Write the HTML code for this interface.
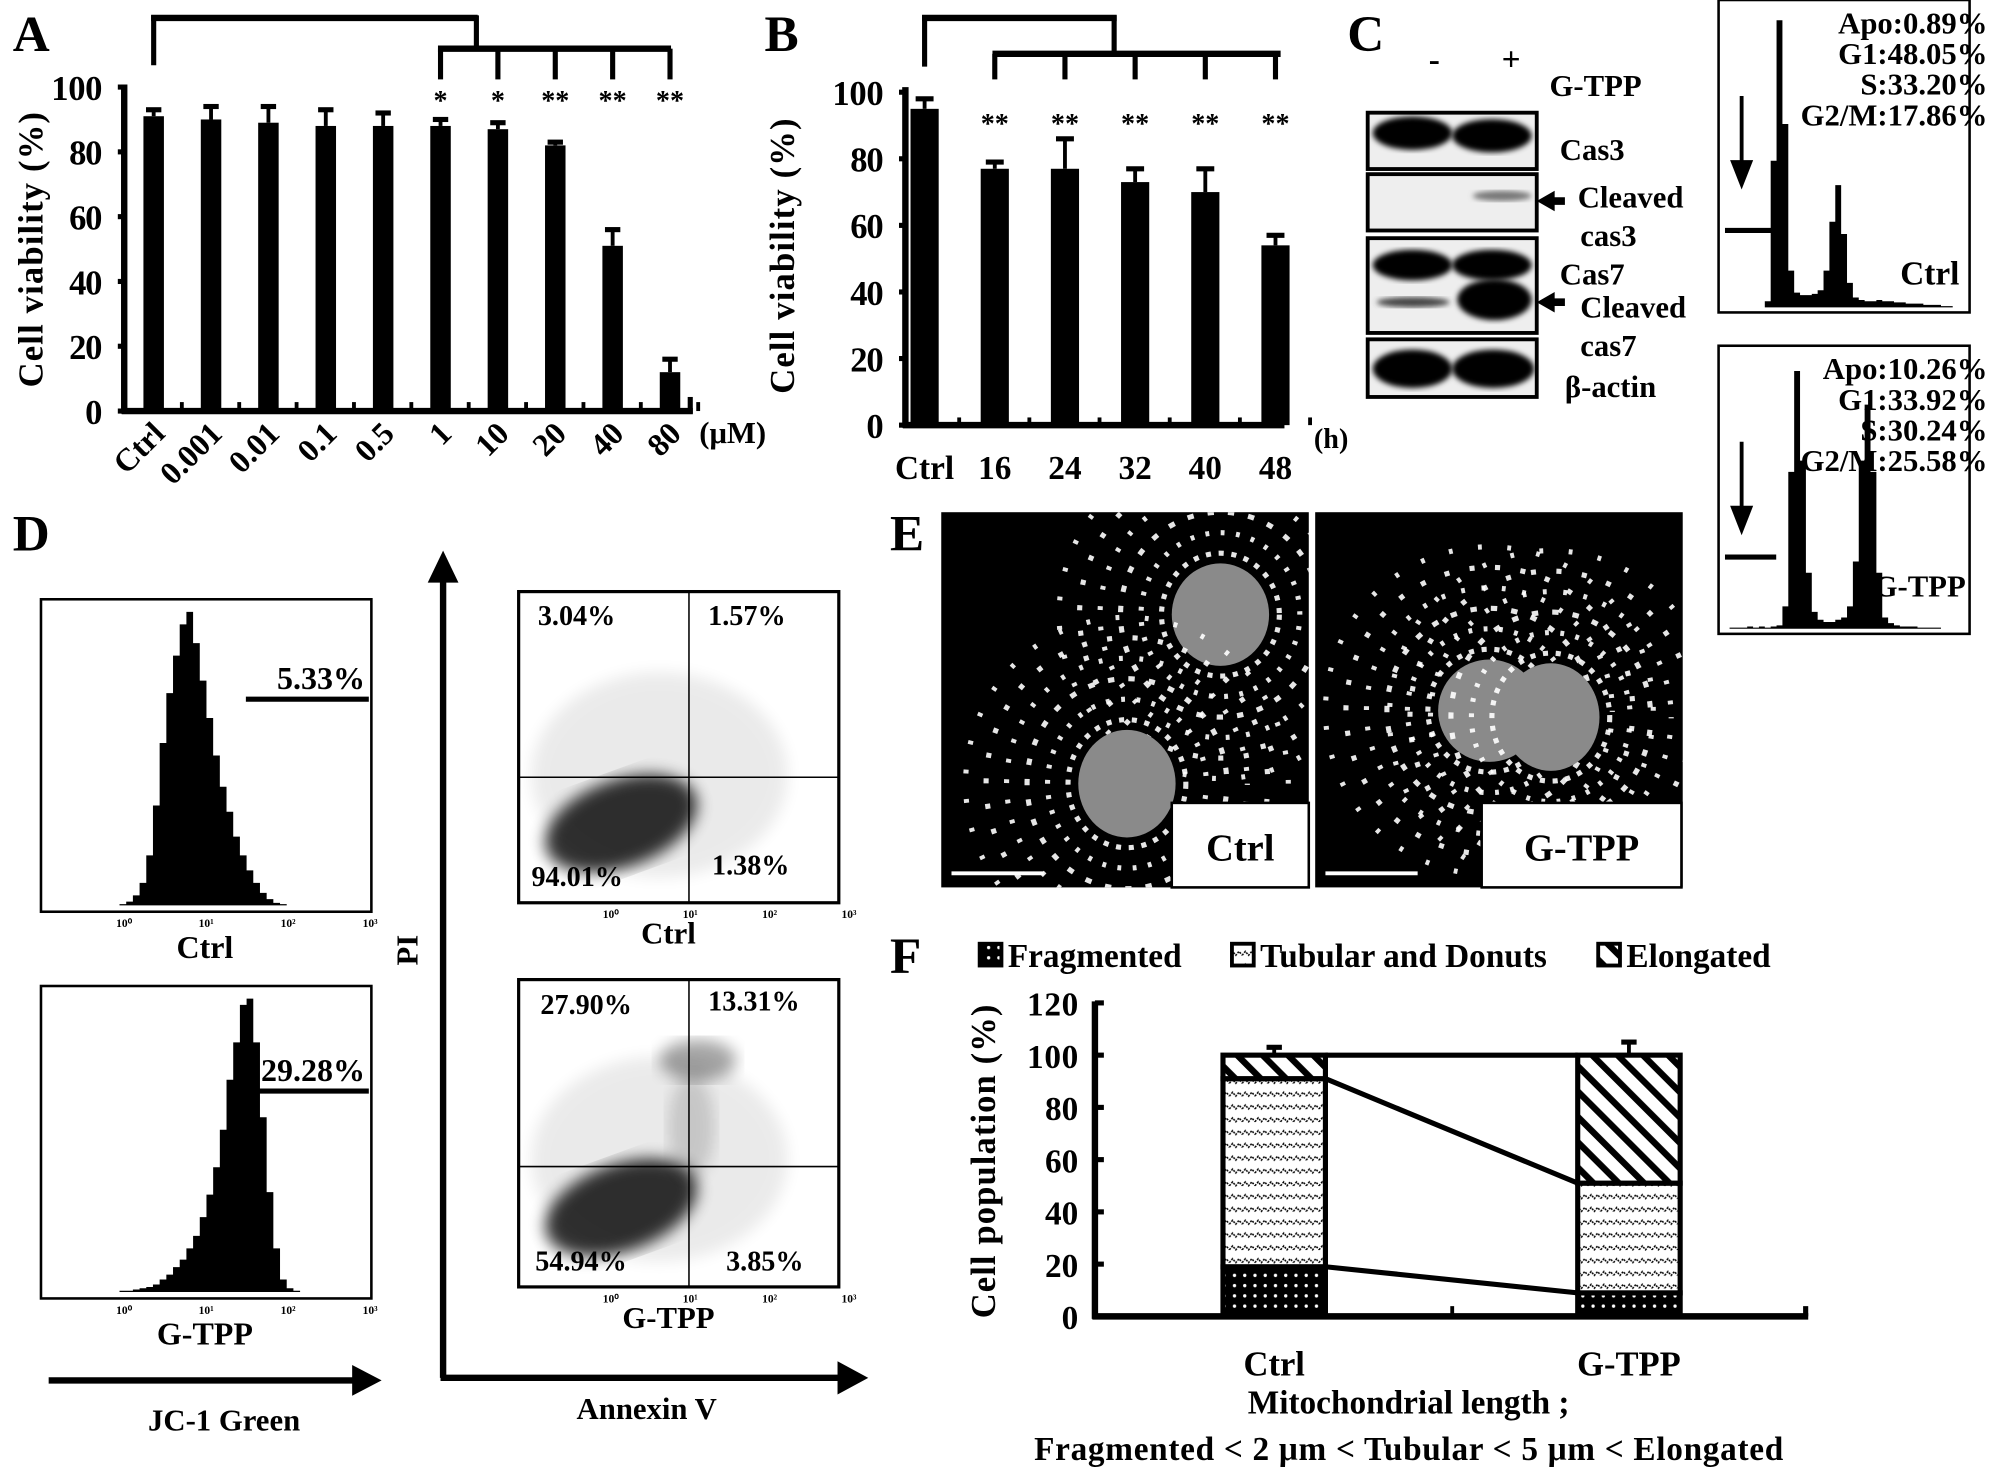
<!DOCTYPE html>
<html><head><meta charset="utf-8"><style>
html,body{margin:0;padding:0;background:#fff;}
svg{display:block;}
text{font-family:"Liberation Serif",serif;font-weight:bold;fill:#000;}
</style></head><body>
<svg id="fig" width="2008" height="1479" viewBox="0 0 1568 1155" preserveAspectRatio="none" xmlns="http://www.w3.org/2000/svg">
<defs>
<pattern id="pDots" width="8" height="8" patternUnits="userSpaceOnUse"><rect width="8" height="8" fill="#000"/><circle cx="4" cy="4" r="1.3" fill="#fff"/></pattern>
<pattern id="pWave" width="10" height="10" patternUnits="userSpaceOnUse"><rect width="10" height="10" fill="#fff"/><path d="M0 6 L2.5 3 L5 6 L7.5 3 L10 6" stroke="#000" stroke-width="1.2" fill="none" stroke-dasharray="1.5 1"/></pattern>
<pattern id="pHatch" width="14" height="14" patternUnits="userSpaceOnUse" patternTransform="rotate(-45)"><rect width="14" height="14" fill="#fff"/><rect x="0" y="0" width="5" height="14" fill="#000"/></pattern>
<filter id="blur2"><feGaussianBlur stdDeviation="2"/></filter>
<filter id="blur6"><feGaussianBlur stdDeviation="6"/></filter>
</defs>
<g id="gA"></g>
<g id="gB"></g>
<g id="gC"></g>
<g id="gD"></g>
<g id="gE"></g>
<g id="gF"></g>
</svg>
<script>
// Panel A data
const aCats=["Ctrl","0.001","0.01","0.1","0.5","1","10","20","40","80"];
const aVals=[91,90,89,88,88,88,87,82,51,12];
const aErr=[2,4,5,5,4,2,2,1,5,4];
const aStars=["","","","","","*","*","**","**","**"];
const aTicks=[0,20,40,60,80,100];
// Panel B data
const bCats=["Ctrl","16","24","32","40","48"];
const bVals=[95,77,77,73,70,54];
const bErr=[3,2,9,4,7,3];
const bStars=["","**","**","**","**","**"];
const bTicks=[0,20,40,60,80,100];
// Panel F data
const fCats=["Ctrl","G-TPP"];
const fFrag=[19,9];
const fTub=[72,42];
const fElong=[9,49];
const fFragErr=[3,4];
const fTubErr=[3,6];
const fElongErr=[3,5];
const fTicks=[0,20,40,60,80,100,120];
// Cell cycle histograms (coarse bins)
const ccCtrl=[0,0,0,0,0,0,0,5,120,235,150,30,12,10,10,11,14,30,70,100,60,20,8,6,5,5,6,5,5,4,4,3,3,3,2,2,2,1,1,0,0];
const ccGtpp=[0,1,1,1,2,1,2,1,2,3,20,140,230,150,50,15,8,6,6,8,10,20,60,150,200,140,50,10,5,3,2,2,2,1,1,1,1,0,0,0,0];
// JC-1 histograms
const jcCtrl=[0,0,0,0,0,0,1,3,8,18,40,80,130,170,200,225,235,210,180,150,120,95,75,55,40,28,18,10,5,2,1,0,0,0,0,0];
const jcGtpp=[0,0,0,0,0,0,1,1,2,3,4,6,10,14,20,26,35,45,60,78,100,130,170,200,230,235,200,140,80,35,10,3,1,0,0,0];

const NS="http://www.w3.org/2000/svg";
function mk(parent,tag,attrs,txt){const e=document.createElementNS(NS,tag);for(const k in attrs)e.setAttribute(k,attrs[k]);if(txt!==undefined)e.textContent=txt;parent.appendChild(e);return e;}
function line(p,x1,y1,x2,y2,w){return mk(p,"line",{x1,y1,x2,y2,stroke:"#000","stroke-width":w||3});}

// ---------- Panel A ----------
(function(){
const g=document.getElementById("gA");
const yA=v=>321-v*2.53, xA=i=>120+i*44.8;
let t=mk(g,"text",{x:10,y:40,"font-size":40},"A");


line(g,97,66,97,323,5);line(g,95,321,541,321,5);line(g,539,310,539,323,4);
aTicks.forEach(v=>{line(g,92,yA(v),99,yA(v),4);
 const tt=mk(g,"text",{x:80,y:yA(v)+10,"font-size":27,"text-anchor":"end",textLength:v>=100?40:(v>0?26:14)},v);
 
 });
const yl=mk(g,"text",{x:0,y:0,"font-size":27,"text-anchor":"middle",transform:"translate(33,195) rotate(-90)",textLength:215},"Cell viability (%)");


aVals.forEach((v,i)=>{const x=xA(i);
 const r=mk(g,"rect",{x:x-8,y:yA(v),width:16,height:321-yA(v),fill:"#000"});
 
 
 line(g,x,yA(v),x,yA(v+aErr[i]),3);line(g,x-6,yA(v+aErr[i]),x+6,yA(v+aErr[i]),4);
 line(g,x+22,314,x+22,321,3);
 if(aStars[i]){const s=mk(g,"text",{x:x,y:86,"font-size":22,"text-anchor":"middle"},aStars[i]);
  
  }
 const lb=mk(g,"text",{x:0,y:0,"font-size":25,"text-anchor":"end",transform:`translate(${x+10},${340}) rotate(-45)`},aCats[i]);
 
 
});
const u=mk(g,"text",{x:546,y:346,"font-size":24},"(μM)");


line(g,118,14,373,14,5);line(g,120,12,120,51,4);line(g,372,12,372,38,4);
line(g,342,38,524,38,5);[5,6,7,8,9].forEach(i=>line(g,xA(i),38,xA(i),62,4));
})();

// ---------- Panel B ----------
(function(){
const g=document.getElementById("gB");
const yB=v=>332-v*2.6, xB=i=>722+i*54.8;
let t=mk(g,"text",{x:597,y:40,"font-size":40},"B");


line(g,707,68,707,334,5);line(g,705,332,1003,332,5);
bTicks.forEach(v=>{line(g,702,yB(v),709,yB(v),4);
 const tt=mk(g,"text",{x:690,y:yB(v)+10,"font-size":27,"text-anchor":"end",textLength:v>=100?40:(v>0?26:14)},v);
 
 });
const yl=mk(g,"text",{x:0,y:0,"font-size":27,"text-anchor":"middle",transform:"translate(620,200) rotate(-90)",textLength:215},"Cell viability (%)");


bVals.forEach((v,i)=>{const x=xB(i);
 const r=mk(g,"rect",{x:x-11,y:yB(v),width:22,height:332-yB(v),fill:"#000"});
 
 
 line(g,x,yB(v),x,yB(v+bErr[i]),3);line(g,x-7,yB(v+bErr[i]),x+7,yB(v+bErr[i]),4);
 line(g,x+27,326,x+27,332,3);
 if(bStars[i]){const s=mk(g,"text",{x:x,y:104,"font-size":22,"text-anchor":"middle"},bStars[i]);
  
  }
 const lb=mk(g,"text",{x:x,y:374,"font-size":26,"text-anchor":"middle"},bCats[i]);
 
 
});
const u=mk(g,"text",{x:1026,y:350,"font-size":22},"(h)");


line(g,720,14,872,14,5);line(g,722,12,722,52,4);line(g,870,12,870,42,4);
line(g,775,42,1000,42,5);[1,2,3,4,5].forEach(i=>line(g,xB(i),42,xB(i),62,4));
})();

// ---------- Panel C ----------
(function(){
const g=document.getElementById("gC");
let t=mk(g,"text",{x:1052,y:40,"font-size":40},"C");


[["-",1120,55],["+",1180,55]].forEach(a=>{const e=mk(g,"text",{x:a[1],y:a[2],"font-size":26,"text-anchor":"middle"},a[0]);
 
 });
const blots=[[88,132],[136,180],[186,260],[265,310]];
blots.forEach(b=>{const r=mk(g,"rect",{x:1068,y:b[0],width:132,height:b[1]-b[0],fill:"#eee",stroke:"#000","stroke-width":3});
 
 });
const bands=[[1072,1134,104,13,"#000"],[1134,1196,106,13,"#000"],[1150,1196,153,4,"#777"],[1072,1134,207,12,"#000"],[1134,1196,207,12,"#000"],[1075,1132,236,4,"#444"],[1138,1196,234,16,"#000"],[1072,1134,288,15,"#000"],[1134,1198,288,15,"#000"]];
bands.forEach(b=>mk(g,"ellipse",{cx:(b[0]+b[1])/2,cy:b[2],rx:(b[1]-b[0])/2,ry:b[3],fill:b[4],filter:"url(#blur2)"}));
const labels=[["G-TPP",1210,75],["Cas3",1218,125],["Cleaved",1232,162],["cas3",1234,192],["Cas7",1218,222],["Cleaved",1234,248],["cas7",1234,278],["β-actin",1222,310]];
labels.forEach(l=>{const e=mk(g,"text",{x:l[1],y:l[2],"font-size":24},l[0]);
 
 });
mk(g,"path",{d:"M1200 157 L1214 149 L1214 154 L1222 154 L1222 160 L1214 160 L1214 165 Z",fill:"#000"});
mk(g,"path",{d:"M1200 236 L1214 228 L1214 233 L1222 233 L1222 239 L1214 239 L1214 244 Z",fill:"#000"});
function cc(x0,y0,w,h,data,txts,name){
 const r=mk(g,"rect",{x:x0,y:y0,width:w,height:h,fill:"#fff",stroke:"#000","stroke-width":2});
 
 
 const bw=(w-8)/data.length;const base=y0+h-4;let d=`M${x0+4} ${base}`;
 data.forEach((v,i)=>{const yy=base-v*(h-15)/240;d+=` L${x0+4+i*bw} ${yy} L${x0+4+(i+1)*bw} ${yy}`;});
 d+=` L${x0+w-4} ${base} Z`;
 const p=mk(g,"path",{d,fill:"#000"});
 
 
 txts.forEach((tx,i)=>{const e=mk(g,"text",{x:x0+w+14,y:y0+26+i*24,"font-size":24,"text-anchor":"end"},tx);
  
  });
 line(g,x0+18,y0+75,x0+18,y0+135,3);mk(g,"path",{d:`M${x0+9} ${y0+125} L${x0+27} ${y0+125} L${x0+18} ${y0+148}Z`,fill:"#000"});
 line(g,x0+5,y0+165+(h>230?15:0),x0+45,y0+165+(h>230?15:0),4);
}
cc(1342,0,196,244,ccCtrl,["Apo:0.89%","G1:48.05%","S:33.20%","G2/M:17.86%"],"cell-cycle-ctrl");
cc(1342,270,196,225,ccGtpp,["Apo:10.26%","G1:33.92%","S:30.24%","G2/M:25.58%"],"cell-cycle-gtpp");
let e1=mk(g,"text",{x:1530,y:222,"font-size":26,"text-anchor":"end"},"Ctrl");


let e2=mk(g,"text",{x:1535,y:466,"font-size":24,"text-anchor":"end"},"G-TPP");


})();

// ---------- Panel D ----------
(function(){
const g=document.getElementById("gD");
let t=mk(g,"text",{x:10,y:430,"font-size":40},"D");


function hist(x0,y0,data,pct,lx,ly,lab,name){
 const w=258,h=244;
 const r=mk(g,"rect",{x:x0,y:y0,width:w,height:h,fill:"#fff",stroke:"#000","stroke-width":2});
 
 
 const bw=(w-70)/data.length;const base=y0+h-5;let d=`M${x0+10} ${base}`;
 data.forEach((v,i)=>{const yy=base-v*(h-10)/240;d+=` L${x0+30+i*bw} ${yy} L${x0+30+(i+1)*bw} ${yy}`;});
 d+=` L${x0+w-30} ${base} Z`;
 const p=mk(g,"path",{d,fill:"#000"});
 
 
 line(g,lx,ly,x0+w-2,ly,4);
 const e=mk(g,"text",{x:x0+w-5,y:ly-8,"font-size":25,"text-anchor":"end"},pct);
 
 
 ["10⁰","10¹","10²","10³"].forEach((s,i)=>mk(g,"text",{x:x0+65+i*64,y:y0+h+12,"font-size":9,"font-weight":"normal","text-anchor":"middle"},s));
 const l=mk(g,"text",{x:x0+128,y:y0+h+36,"font-size":25,"text-anchor":"middle"},lab);
 
 
}
hist(32,468,jcCtrl,"5.33%",192,546,"Ctrl","jc1-ctrl");
hist(32,770,jcGtpp,"29.28%",196,852,"G-TPP","jc1-gtpp");
line(g,38,1078,285,1078,5);mk(g,"path",{d:"M298 1078 L275 1066 L275 1090Z",fill:"#000"});
let x1=mk(g,"text",{x:175,y:1117,"font-size":24,"text-anchor":"middle"},"JC-1 Green");


line(g,346,445,346,1076,5);mk(g,"path",{d:"M346 430 L334 455 L358 455Z",fill:"#000"});
line(g,344,1076,665,1076,5);mk(g,"path",{d:"M678 1076 L654 1063 L654 1089Z",fill:"#000"});
let pi=mk(g,"text",{x:0,y:0,"font-size":24,"text-anchor":"middle",transform:"translate(326,742) rotate(-90)"},"PI");


let av=mk(g,"text",{x:505,y:1108,"font-size":24,"text-anchor":"middle"},"Annexin V");


function scat(x0,y0,w,h,qy,pcts,lab,name,extra){
 const r=mk(g,"rect",{x:x0,y:y0,width:w,height:h,fill:"#fff",stroke:"#000","stroke-width":2.5});
 
 
 mk(g,"ellipse",{cx:x0+80,cy:y0+h-62,rx:62,ry:34,fill:"#000",opacity:0.8,filter:"url(#blur6)",transform:`rotate(-20 ${x0+80} ${y0+h-62})`});
 mk(g,"ellipse",{cx:x0+110,cy:y0+h-100,rx:100,ry:80,fill:"#000",opacity:0.08,filter:"url(#blur6)"});
 extra.forEach(c=>mk(g,"ellipse",{cx:c[0],cy:c[1],rx:c[2],ry:c[3],fill:"#000",opacity:c[4],filter:"url(#blur6)"}));
 line(g,x0,y0+qy,x0+w,y0+qy,1.2);line(g,x0+133,y0,x0+133,y0+h,1.2);
 pcts.forEach(p=>{const e=mk(g,"text",{x:p[0],y:p[1],"font-size":22},p[2]);
  
  });
 ["10⁰","10¹","10²","10³"].forEach((s,i)=>mk(g,"text",{x:x0+72+i*62,y:y0+h+12,"font-size":9,"font-weight":"normal","text-anchor":"middle"},s));
 const l=mk(g,"text",{x:x0+117,y:y0+h+32,"font-size":24,"text-anchor":"middle"},lab);
 
 
}
scat(405,462,250,243,145,[[420,488,"3.04%"],[553,488,"1.57%"],[415,692,"94.01%"],[556,683,"1.38%"]],"Ctrl","annexin-scatter-ctrl",[]);
scat(405,765,250,240,146,[[422,792,"27.90%"],[553,789,"13.31%"],[418,992,"54.94%"],[567,992,"3.85%"]],"G-TPP","annexin-scatter-gtpp",[[545,828,30,16,0.35],[540,880,18,40,0.15]]);
})();

// ---------- Panel E ----------
(function(){
const g=document.getElementById("gE");
let t=mk(g,"text",{x:695,y:430,"font-size":40},"E");


function img(x0,lab,lw,nuc){
 const r=mk(g,"rect",{x:x0,y:400,width:287,height:293,fill:"#000"});
 
 
 const cg=mk(g,"g",{});
 const cp=mk(g,"clipPath",{id:"clip"+x0});mk(cp,"rect",{x:x0,y:400,width:287,height:293});
 cg.setAttribute("clip-path",`url(#clip${x0})`);
 nuc.forEach(n=>{
  [[8,"4 6",0],[24,"3 9",3],[40,"5 11",6],[56,"3 13",2],[72,"4 16",8],[88,"3 20",4]].forEach(s=>
   mk(cg,"ellipse",{cx:n[0],cy:n[1],rx:n[2]+s[0],ry:n[3]+s[0],fill:"none",stroke:"#fff","stroke-width":4,"stroke-dasharray":s[1],"stroke-dashoffset":s[2],opacity:0.9}));
  mk(cg,"ellipse",{cx:n[0],cy:n[1],rx:n[2],ry:n[3],fill:"#8a8a8a"});
 });
 line(g,x0+8,682,x0+80,682,3).setAttribute("stroke","#fff");
 const b=mk(g,"rect",{x:x0+lw[0],y:627,width:lw[1],height:66,fill:"#fff",stroke:"#000","stroke-width":2});
 
 
 const e=mk(g,"text",{x:x0+lw[0]+lw[1]/2,y:672,"font-size":30,"text-anchor":"middle"},lab);
 
 
}
img(735,"Ctrl",[180,107],[[953,480,38,40],[880,612,38,42]]);
img(1027,"G-TPP",[130,156],[[1163,555,40,40],[1211,560,38,42]]);
})();

// ---------- Panel F ----------
(function(){
const g=document.getElementById("gF");
const yF=v=>1028-v*2.04, xF=i=>995+i*277;
let t=mk(g,"text",{x:695,y:760,"font-size":40},"F");


const leg=[["url(#pDots)",765,"Fragmented"],["url(#pWave)",962,"Tubular and Donuts"],["url(#pHatch)",1248,"Elongated"]];
leg.forEach(l=>{mk(g,"rect",{x:l[1],y:737,width:17,height:17,fill:l[0],stroke:"#000","stroke-width":3});
 const e=mk(g,"text",{x:l[1]+22,y:755,"font-size":26},l[2]);
 
 });
line(g,855,782,855,1030,5);line(g,853,1028,1412,1028,5);line(g,1134,1020,1134,1028,3);line(g,1410,1020,1410,1028,4);
fTicks.forEach(v=>{line(g,855,yF(v),862,yF(v),4);
 const e=mk(g,"text",{x:842,y:yF(v)+10,"font-size":26,"text-anchor":"end",textLength:v>=100?40:(v>0?26:14)},v);
 
 });
const yl=mk(g,"text",{x:0,y:0,"font-size":27,"text-anchor":"middle",transform:"translate(777,907) rotate(-90)",textLength:245},"Cell population (%)");


fCats.forEach((c,i)=>{const x=xF(i)-40;
 const segs=[[0,fFrag[i],"url(#pDots)",fFragErr[i]],[fFrag[i],fFrag[i]+fTub[i],"url(#pWave)",fTubErr[i]],[fFrag[i]+fTub[i],fFrag[i]+fTub[i]+fElong[i],"url(#pHatch)",fElongErr[i]]];
 segs.forEach(s=>{const r=mk(g,"rect",{x:x,y:yF(s[1]),width:80,height:yF(s[0])-yF(s[1]),fill:s[2],stroke:"#000","stroke-width":4});
  
  
  line(g,xF(i),yF(s[1]),xF(i),yF(s[1]+s[3]),3);line(g,xF(i)-6,yF(s[1]+s[3]),xF(i)+6,yF(s[1]+s[3]),4);});
 const l=mk(g,"text",{x:xF(i),y:1074,"font-size":27,"text-anchor":"middle"},c);
 
 
});
line(g,xF(0)+40,yF(100),xF(1)-40,yF(100),4);
line(g,xF(0)+40,yF(fFrag[0]+fTub[0]),xF(1)-40,yF(fFrag[1]+fTub[1]),4);
line(g,xF(0)+40,yF(fFrag[0]),xF(1)-40,yF(fFrag[1]),4);
const a=mk(g,"text",{x:1100,y:1104,"font-size":26,"text-anchor":"middle"},"Mitochondrial length ;");


const b=mk(g,"text",{x:1100,y:1140,"font-size":26,"text-anchor":"middle",textLength:585},"Fragmented < 2 μm < Tubular < 5 μm < Elongated");


})();
</script>
</body></html>
